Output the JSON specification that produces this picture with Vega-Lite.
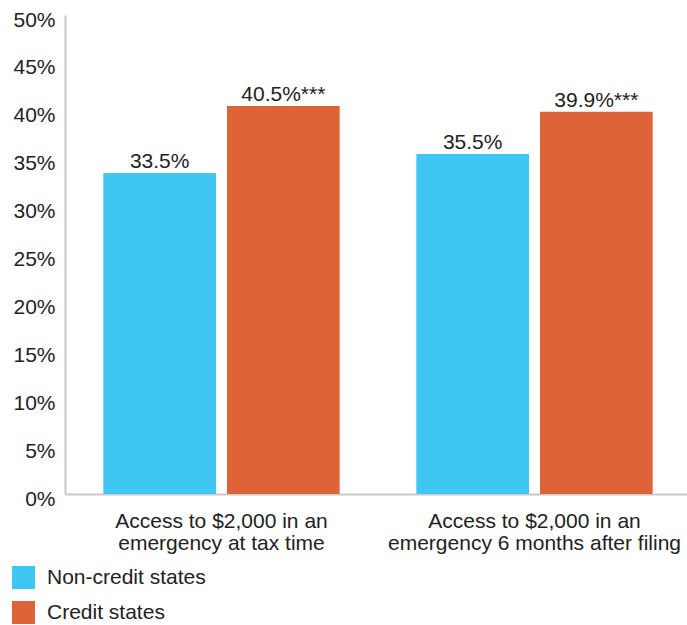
{
  "$schema": "https://vega.github.io/schema/vega-lite/v6.json",
  "width": 626,
  "height": 479,
  "autosize": {"type": "none"},
  "padding": {"left": 65, "top": 15, "right": 0, "bottom": 131},
  "background": "white",
  "config": {
    "view": {"stroke": null},
    "font": "Liberation Sans",
    "axis": {"labelFont": "Liberation Sans", "labelColor": "#222222", "labelFontSize": 21, "domainColor": "#cbc8c5", "domainWidth": 2, "ticks": false, "grid": false, "title": null, "labelLimit": 400},
    "legend": {"labelFont": "Liberation Sans", "labelFontSize": 21, "labelColor": "#222222", "labelLimit": 400}
  },
  "data": {
    "values": [
      {"measure": "Access to $2,000 in an|emergency at tax time", "group": "Non-credit states", "value": 33.5, "label": "33.5%"},
      {"measure": "Access to $2,000 in an|emergency at tax time", "group": "Credit states", "value": 40.5, "label": "40.5%***"},
      {"measure": "Access to $2,000 in an|emergency 6 months after filing", "group": "Non-credit states", "value": 35.5, "label": "35.5%"},
      {"measure": "Access to $2,000 in an|emergency 6 months after filing", "group": "Credit states", "value": 39.9, "label": "39.9%***"}
    ]
  },
  "encoding": {
    "x": {
      "field": "measure", "type": "nominal", "sort": null,
      "scale": {"paddingInner": 0, "paddingOuter": 0},
      "axis": {"labelAngle": 0, "labelPadding": 16, "labelExpr": "split(datum.label, '|')", "labelLineHeight": 22, "labelBaseline": "top"}
    },
    "xOffset": {
      "field": "group", "type": "nominal", "sort": ["Non-credit states", "Credit states"],
      "scale": {"paddingInner": 0.089, "paddingOuter": 0.31}
    },
    "y": {
      "field": "value", "type": "quantitative",
      "scale": {"domain": [0, 50], "nice": false},
      "axis": {"values": [0, 5, 10, 15, 20, 25, 30, 35, 40, 45, 50], "labelExpr": "datum.value + '%'", "labelPadding": 10, "labelOffset": 5}
    }
  },
  "layer": [
    {
      "mark": {"type": "bar"},
      "encoding": {
        "color": {
          "field": "group", "type": "nominal",
          "scale": {"domain": ["Non-credit states", "Credit states"], "range": ["#40C6F2", "#DE6339"]},
          "legend": {"title": null, "orient": "none", "legendX": -53, "legendY": 551, "symbolType": "square", "symbolSize": 529, "symbolStrokeWidth": 0, "rowPadding": 12, "labelOffset": 12, "symbolOpacity": 1}
        }
      }
    },
    {
      "mark": {"type": "text", "baseline": "bottom", "dy": -1, "fontSize": 21, "color": "#222222", "font": "Liberation Sans"},
      "encoding": {"text": {"field": "label"}}
    }
  ]
}
